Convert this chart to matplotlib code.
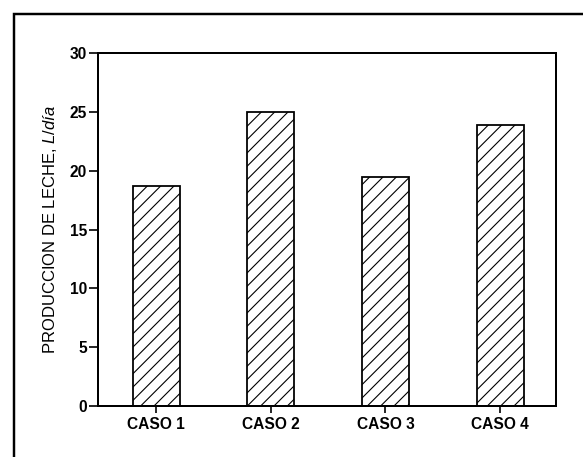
import matplotlib
matplotlib.use("Agg")
import matplotlib.pyplot as plt
from matplotlib.patches import Rectangle

categories = ["CASO 1", "CASO 2", "CASO 3", "CASO 4"]
values = [18.7, 25.0, 19.5, 23.9]
yticks = [0, 5, 10, 15, 20, 25, 30]

DPI = 80
plt.rcParams['font.family'] = ['Liberation Sans', 'DejaVu Sans']
plt.rcParams['mathtext.fontset'] = 'custom'
plt.rcParams['mathtext.it'] = 'Liberation Sans:italic'
plt.rcParams['mathtext.rm'] = 'Liberation Sans'
plt.rcParams['hatch.linewidth'] = 1.0

fig = plt.figure(figsize=(583 / DPI, 457 / DPI), dpi=DPI)
ax = fig.add_axes([98 / 583, 1 - 406 / 457, (556 - 98) / 583, (406 - 53) / 457])
x = list(range(len(categories)))
ax.bar(x, values, width=0.41, facecolor="white", edgecolor="black",
       linewidth=1.6, hatch="//", zorder=2)

ax.set_xlim(-0.506, 3.487)
ax.set_ylim(0, 30)
ax.set_yticks(yticks)
ax.set_yticklabels([str(t) for t in yticks], fontsize=14, fontweight="bold")
ax.set_xticks(x)
ax.set_xticklabels(categories, fontsize=14, fontweight="bold")
ax.tick_params(axis="y", direction="out", length=8, width=1.5, pad=2)
ax.tick_params(axis="x", direction="out", length=6, width=1.5, pad=4)
for s in ax.spines.values():
    s.set_linewidth(1.8)

ax.set_ylabel("PRODUCCION DE LECHE, $\\mathit{L/día}$", fontsize=15, labelpad=10)

frame = Rectangle((14 / 583, -0.2), 1.3, (457 - 14) / 457 + 0.2,
                  transform=fig.transFigure, fill=False, edgecolor="black",
                  linewidth=2.2, clip_on=False)
fig.patches.append(frame)

fig.savefig("out.png", dpi=DPI)
